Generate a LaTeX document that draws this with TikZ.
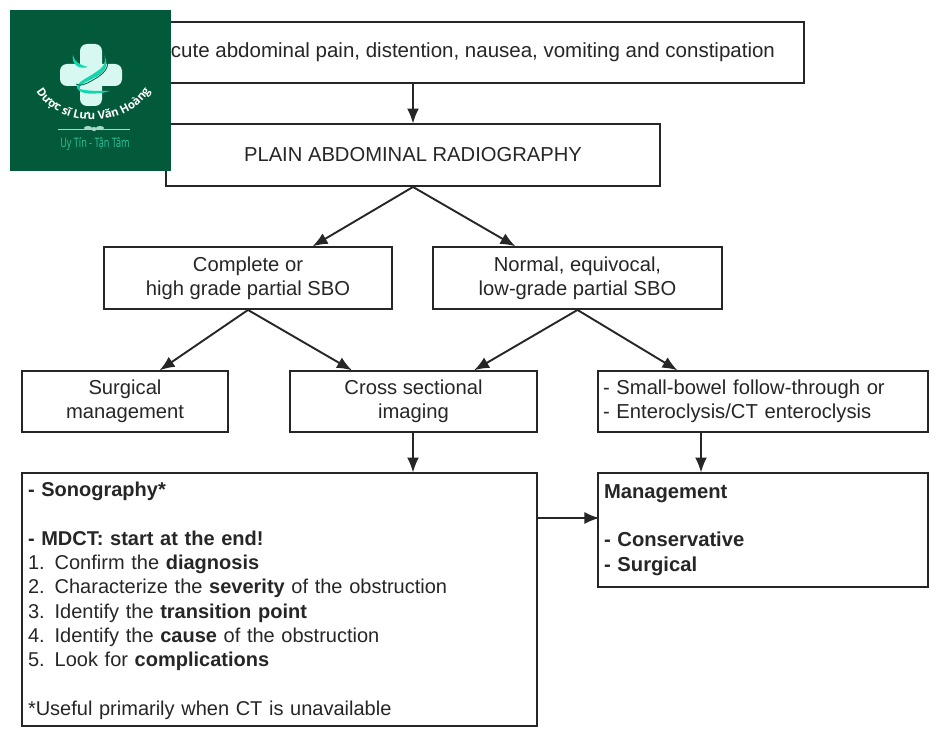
\documentclass[tikz,border=0pt]{standalone}
\usepackage{fontspec}
\setmainfont{Liberation Sans}
\newfontfamily\logofont{Open Sans}
\usetikzlibrary{arrows.meta,decorations.text}
\definecolor{ink}{HTML}{262626}
\definecolor{logogreen}{HTML}{035A3B}
\definecolor{logomint}{HTML}{D6F8F0}
\definecolor{logoteal}{HTML}{12D6AE}
\definecolor{logotext}{HTML}{2FC39A}
\tikzset{
  x=1pt,y=-1pt,
  flowbox/.style={draw=ink,line width=1.9pt,fill=white,inner sep=0pt,align=center,text=ink,
    font=\fontsize{20.2}{24.3}\selectfont},
  conn/.style={draw=ink,line width=1.9pt,-{Latex[length=15pt,width=12pt]},shorten >=-0.5pt},
}
\newcommand{\boxat}[6]{% name, x0, y0, x1, y1, options
  \node[flowbox,#6] (#1) at ({(#2+#4)/2},{(#3+#5)/2}) [minimum width={#4-#2},minimum height={#5-#3}]}
\begin{document}
\begin{tikzpicture}
\useasboundingbox[fill=white] (0,0) rectangle (950,749);
\boxat{top}{166}{22}{804}{83}{font=\fontsize{20.5}{24.3}\selectfont} {\makebox[580pt][r]{Acute abdominal pain, distention, nausea, vomiting and constipation}};
\boxat{rad}{166}{124}{660}{186}{} {\raisebox{1.5pt}{PLAIN ABDOMINAL RADIOGRAPHY}};
\boxat{comp}{104}{247}{392}{309}{} {Complete or\\high grade partial SBO};
\boxat{norm}{433}{247}{722}{309}{} {Normal, equivocal,\\low-grade partial SBO};
\boxat{surg}{22}{371}{228}{432}{} {Surgical\\management};
\boxat{cross}{290}{371}{537}{432}{} {Cross sectional\\imaging};
\boxat{small}{598}{371}{928}{432}{align=left,text width=320pt} {- Small-bowel follow-through or\\- Enteroclysis/CT enteroclysis};
\boxat{sono}{22}{473}{537}{726}{align=left,text width=503pt,font=\fontsize{20}{24.3}\selectfont} {\rule{0pt}{17pt}\textbf{- Sonography*}\\[24.3pt]
\textbf{- MDCT: start at the end!}\\
1. Confirm the \textbf{diagnosis}\\
2. Characterize the \textbf{severity} of the obstruction\\
3. Identify the \textbf{transition point}\\
4. Identify the \textbf{cause} of the obstruction\\
5. Look for \textbf{complications}\\[24.3pt]
*Useful primarily when CT is unavailable};
\boxat{mgmt}{598}{473}{928}{587}{align=left,text width=318pt} {\textbf{Management}\\[24.3pt]
\textbf{- Conservative}\\
\textbf{- Surgical}};
\draw[conn] (rad.north) ++(0,-41) -- (rad.north);
\draw[conn] (rad.south) -- ([xshift=-100pt]rad.south |- comp.north);
\draw[conn] (rad.south) -- ([xshift=102pt]rad.south |- norm.north);
\draw[conn] (comp.south) -- ([xshift=35pt]surg.north);
\draw[conn] (comp.south) -- ([xshift=-62pt]cross.north);
\draw[conn] (norm.south) -- ([xshift=61pt]cross.north);
\draw[conn] (norm.south) -- ([xshift=-86pt]small.north);
\draw[conn] ([xshift=-.5pt]cross.south) -- ([xshift=-.5pt]sono.north -| cross.south);
\draw[conn] ([xshift=-62pt]small.south) -- ([xshift=-62pt]mgmt.north);
\draw[conn] (sono.east |- mgmt.center) ++(0,-12) -- ++(61,0);
% logo
\fill[logogreen] (10,10) rectangle (171,171);
\fill[logomint,rounded corners=7pt] (80,44) rectangle (102,106);
\fill[logomint,rounded corners=7pt] (60,64) rectangle (122,86);
\fill[logoteal] (73,55) .. controls (74,62) and (80,65) .. (88,67) .. controls (79,70) and (71,64) .. (73,55) -- cycle;
\fill[logoteal] (104,55) .. controls (110,66) and (105,73) .. (92,79) .. controls (82,84) and (78,86) .. (80,89) .. controls (86,91) and (98,91) .. (110,91) .. controls (96,95) and (80,95) .. (77,88) .. controls (76,82) and (88,78) .. (96,72) .. controls (104,67) and (107,62) .. (104,55) -- cycle;
\draw[logogreen,line width=.8pt] (106,57) .. controls (111,67) and (104,74) .. (93,80) .. controls (86,84) and (80,87) .. (76,84);
\path[decorate,decoration={text along path,text align=center,
  text={|\logofont\bfseries\fontsize{11.5}{12}\selectfont\color{white}|Dược sĩ Lưu Văn Hoàng}}]
  (33,84) .. controls (52,132) and (132,132) .. (154,84);
\draw[logomint!80!logogreen,line width=.6pt] (58,129) -- (130,129);
\fill[logomint!80!logogreen] (94,129) circle (2.2pt) (88,128) ellipse (4pt and 2pt) (100,128) ellipse (4pt and 2pt);
\node[inner sep=0pt,text=logotext,font=\logofont\fontsize{13}{13}\selectfont,xscale=.7] (slogan) at (95,144) {Uy Tín - Tận Tâm};
\end{tikzpicture}
\end{document}
